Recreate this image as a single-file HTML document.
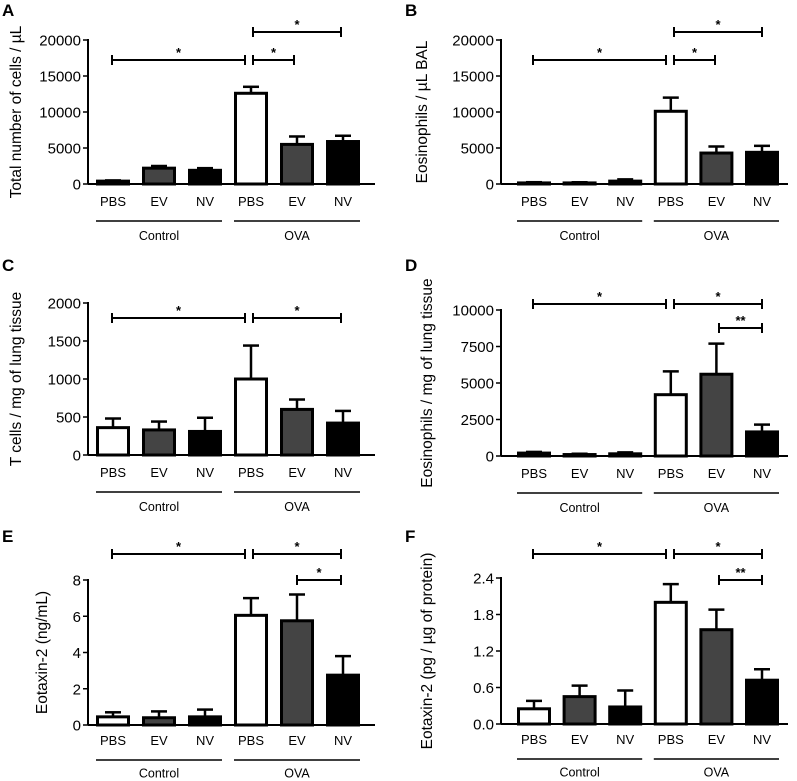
<!DOCTYPE html>
<html><head><meta charset="utf-8"><style>
body{margin:0;background:#fff}
svg{display:block;font-family:"Liberation Sans",Arial,sans-serif}
</style></head><body>
<svg id="fig" width="797" height="781" viewBox="0 0 797 781"></svg>
<script>
// Panel data (means and error-bar tops)
const groups = ["PBS","EV","NV","PBS","EV","NV"];
const aMeans = [400,2200,1900,12600,5500,5900];
const aErr = [500,2500,2200,13500,6600,6700];
const bMeans = [150,150,400,10100,4300,4400];
const bErr = [250,250,650,12000,5200,5300];
const cMeans = [360,330,310,1000,600,420];
const cErr = [480,440,490,1440,730,580];
const dMeans = [200,100,150,4200,5600,1650];
const dErr = [280,150,250,5800,7700,2150];
const eMeans = [0.45,0.4,0.45,6.05,5.75,2.75];
const eErr = [0.7,0.75,0.85,7.0,7.2,3.8];
const fMeans = [0.25,0.45,0.28,2.0,1.55,0.72];
const fErr = [0.38,0.63,0.55,2.3,1.88,0.9];
const aTicks = ["0","5000","10000","15000","20000"];
const bTicks = ["0","5000","10000","15000","20000"];
const cTicks = ["0","500","1000","1500","2000"];
const dTicks = ["0","2500","5000","7500","10000"];
const eTicks = ["0","2","4","6","8"];
const fTicks = ["0.0","0.6","1.2","1.8","2.4"];

const NS="http://www.w3.org/2000/svg";
const svg=document.getElementById('fig');
function el(tag,attrs,parent,text){const e=document.createElementNS(NS,tag);for(const k in attrs)e.setAttribute(k,attrs[k]);if(text!==undefined)e.textContent=text;(parent||svg).appendChild(e);return e;}

function panel(p){
  const g=el('g',{});
  
  
  const max=parseFloat(p.ticks[p.ticks.length-1]);
  const y=v=>p.y0-(v/max)*(p.y0-p.yTop);
  const bx=i=>p.c0+i*p.step;
  const o=p.off||0;
  const lt=el('text',{x:p.lx,y:p.ly,'font-size':17,'font-weight':'bold'},g,p.letter);
  
  
  const yt=el('text',{transform:`translate(${p.tx},${(p.y0+p.yTop)/2}) rotate(-90)`,'text-anchor':'middle','font-size':15.5},g,p.title);
  
  
  el('line',{x1:p.ax,y1:p.yTop-1,x2:p.ax,y2:p.y0,stroke:'#000','stroke-width':2},g);
  el('line',{x1:p.ax,y1:p.y0,x2:p.ax+287,y2:p.y0,stroke:'#000','stroke-width':2},g);
  p.ticks.forEach((t,i)=>{
    const v=parseFloat(t);
    el('line',{x1:p.ax-5,y1:y(v),x2:p.ax,y2:y(v),stroke:'#000','stroke-width':1.5},g);
    const tl=el('text',{x:p.ax-7,y:y(v)+5.5,'text-anchor':'end','font-size':15},g,t);
    
    
  });
  const fills=['#fff','#444','#000','#fff','#444','#000'];
  p.means.forEach((m,i)=>{
    const cx=bx(i), w=31;
    el('line',{x1:cx,y1:y(m),x2:cx,y2:y(p.err[i]),stroke:'#000','stroke-width':2.5},g);
    el('line',{x1:cx-8,y1:y(p.err[i]),x2:cx+8,y2:y(p.err[i]),stroke:'#000','stroke-width':2.5},g);
    const r=el('rect',{x:cx-w/2,y:y(m),width:w,height:Math.max(0,p.y0-y(m)),fill:fills[i],stroke:'#000','stroke-width':3},g);
    
    
    const xl=el('text',{x:cx,y:p.y0+22+o,'text-anchor':'middle','font-size':13},g,groups[i]);
    
    
  });
  [[0,'Control'],[1,'OVA']].forEach(([k,name])=>{
    const x1=bx(k*3)-17,x2=bx(k*3+2)+17;
    el('line',{x1:x1,y1:p.y0+37+o,x2:x2,y2:p.y0+37+o,stroke:'#000','stroke-width':1.5},g);
    const gl=el('text',{x:(x1+x2)/2,y:p.y0+56+o*1.8,'text-anchor':'middle','font-size':12.5},g,name);
    
    
  });
  p.sig.forEach(s=>{
    const [x1,x2,yy,lab]=s;
    el('line',{x1:x1,y1:yy,x2:x2,y2:yy,stroke:'#000','stroke-width':2},g);
    el('line',{x1:x1,y1:yy-5,x2:x1,y2:yy+5,stroke:'#000','stroke-width':2},g);
    el('line',{x1:x2,y1:yy-5,x2:x2,y2:yy+5,stroke:'#000','stroke-width':2},g);
    const st=el('text',{x:(x1+x2)/2,y:yy-3,'text-anchor':'middle','font-size':13,'font-weight':'bold'},g,lab);
    
    
  });
}
const L={ax:88,c0:113,step:46,lx:2};
const R={ax:501,c0:534,step:45.6,lx:405};
panel({...L,letter:'A',ly:16,tx:21,y0:184,yTop:40,ticks:aTicks,means:aMeans,err:aErr,title:'Total number of cells / µL',
  sig:[[112,245,60,'*'],[253,294,60,'*'],[253,341,32,'*']]});
panel({...R,letter:'B',ly:16,tx:427,y0:184,yTop:40,ticks:bTicks,means:bMeans,err:bErr,title:'Eosinophils / µL BAL',
  sig:[[533,666,60,'*'],[674,715,60,'*'],[674,762,32,'*']]});
panel({...L,letter:'C',ly:271,tx:21,y0:455,yTop:303,ticks:cTicks,means:cMeans,err:cErr,title:'T cells / mg of lung tissue',
  sig:[[112,245,318,'*'],[253,341,318,'*']]});
panel({...R,letter:'D',ly:271,tx:432,y0:456,yTop:310,ticks:dTicks,means:dMeans,err:dErr,title:'Eosinophils / mg of lung tissue',
  sig:[[533,666,304,'*'],[674,762,304,'*'],[719,762,328,'**']]});
panel({...L,letter:'E',ly:542,tx:47,y0:725,yTop:580,off:-2,ticks:eTicks,means:eMeans,err:eErr,title:'Eotaxin-2 (ng/mL)',
  sig:[[112,245,554,'*'],[253,341,554,'*'],[297,341,580,'*']]});
panel({...R,letter:'F',ly:542,tx:432,y0:724,yTop:578,off:-2,ticks:fTicks,means:fMeans,err:fErr,title:'Eotaxin-2 (pg / µg of protein)',
  sig:[[533,666,554,'*'],[674,762,554,'*'],[719,762,580,'**']]});
</script>
</body></html>
